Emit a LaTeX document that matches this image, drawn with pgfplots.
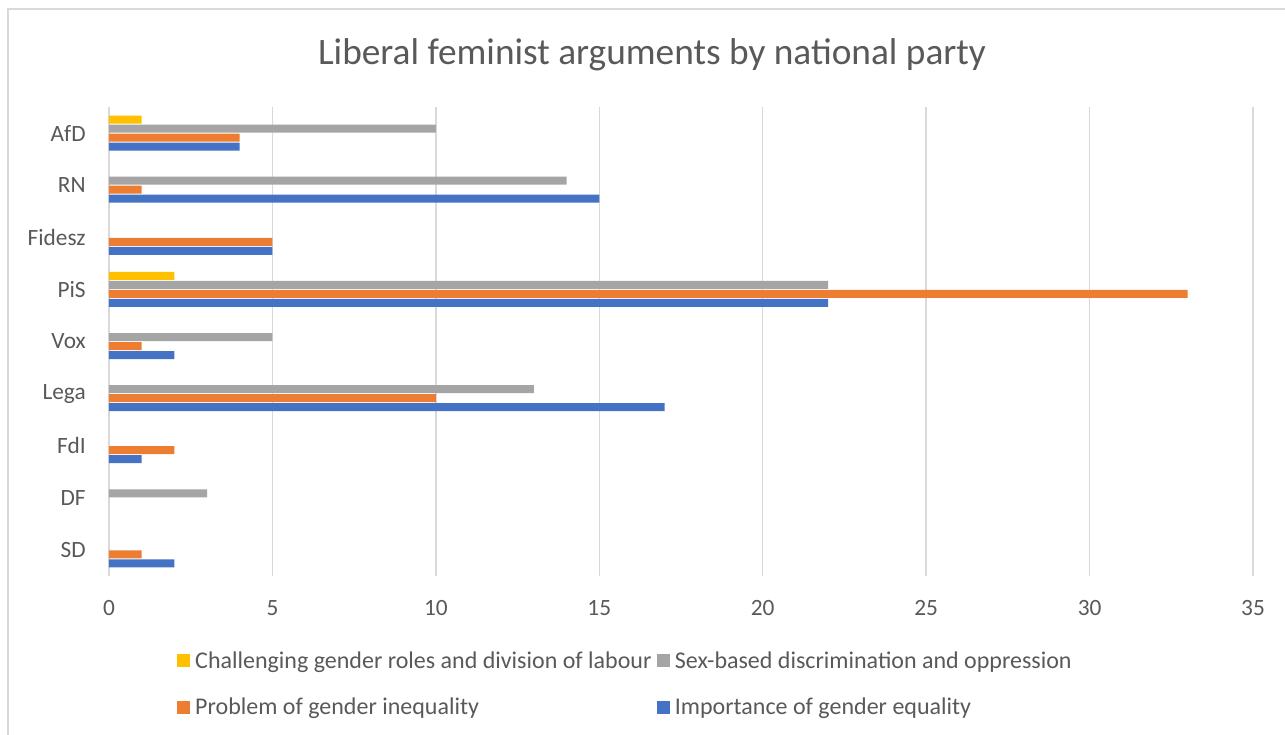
\documentclass[border=0pt]{standalone}
\usepackage{pgfplots}
\pgfplotsset{compat=1.18}
\usepackage{fontspec}
\setmainfont{Carlito}
\definecolor{cblue}{HTML}{4472C4}
\definecolor{corange}{HTML}{ED7D31}
\definecolor{cgray}{HTML}{A5A5A5}
\definecolor{cyellow}{HTML}{FFC000}
\definecolor{txtc}{HTML}{595959}
\definecolor{gridc}{HTML}{D9D9D9}
\begin{document}
\begin{tikzpicture}
\useasboundingbox (0pt,0pt) rectangle (963.75pt,551.25pt);
\begin{scope}
\clip (0pt,0pt) rectangle (963.75pt,551.25pt);
\draw[gridc, line width=1.2pt] (6pt,544.5pt) rectangle (975pt,-15pt);
\end{scope}
\node[text=txtc, font=\fontsize{28}{34}\selectfont] at (489pt,510pt) {Liberal feminist arguments by national party};
\begin{axis}[
  at={(81.75pt,119.25pt)}, anchor=south west,
  xbar,
  width=858pt, height=351.75pt, scale only axis,
  xmin=0, xmax=35, ymin=-0.5, ymax=8.5,
  enlargelimits=false,
  unbounded coords=discard,
  x filter/.expression={x==0 ? nan : x},
  xtick={0,5,...,35},
  ytick={0,...,8},
  yticklabels={SD,DF,FdI,Lega,Vox,PiS,Fidesz,RN,AfD},
  xmajorgrids,
  grid style={gridc, line width=1pt},
  axis line style={draw=none},
  major tick style={draw=none},
  ticklabel style={text=txtc, font=\fontsize{17.5}{21}\selectfont},
  /pgf/number format/assume math mode=true,
  xticklabel style={anchor=north, inner sep=0pt, yshift=-18pt},
  yticklabel style={anchor=east, inner sep=0pt, xshift=-13pt},
  bar width=6pt,
  legend columns=2,
  reverse legend,
  legend cell align=left,
  legend style={draw=none, fill=none, at={(0.0594,-0.156)}, anchor=north west,
    font=\fontsize{18}{22}\selectfont, text=txtc, inner sep=0pt, row sep=18pt,
    nodes={inner xsep=4pt, inner ysep=1.5pt},
    /tikz/every even column/.append style={column sep=0pt}},
  legend image code/.code={\fill[#1] (0pt,-4.75pt) rectangle (9.5pt,4.75pt);},
]
\addplot[fill=cblue, draw=none, bar shift=-10.125pt] coordinates {
 (2,0) (0,1) (1,2) (17,3) (2,4) (22,5) (5,6) (15,7) (4,8)};
\addlegendentry{Importance of gender equality}
\addplot[fill=corange, draw=none, bar shift=-3.375pt] coordinates {
 (1,0) (0,1) (2,2) (10,3) (1,4) (33,5) (5,6) (1,7) (4,8)};
\addlegendentry{Problem of gender inequality}
\addplot[fill=cgray, draw=none, bar shift=3.375pt] coordinates {
 (0,0) (3,1) (0,2) (13,3) (5,4) (22,5) (0,6) (14,7) (10,8)};
\addlegendentry{Sex-based discrimination and oppression}
\addplot[fill=cyellow, draw=none, bar shift=10.125pt] coordinates {
 (0,0) (0,1) (0,2) (0,3) (0,4) (2,5) (0,6) (0,7) (1,8)};
\addlegendentry{Challenging gender roles and division of labour}
\end{axis}
\end{tikzpicture}
\end{document}
